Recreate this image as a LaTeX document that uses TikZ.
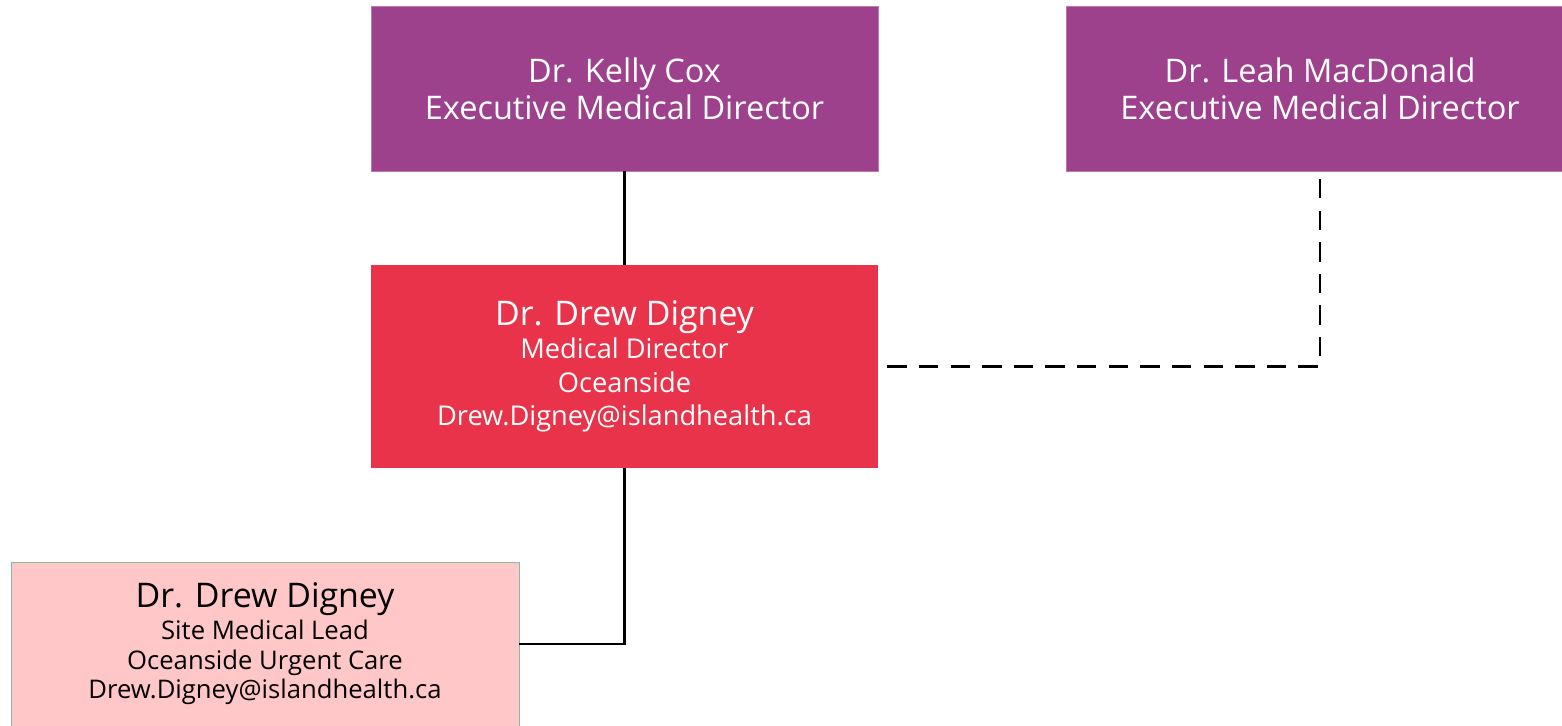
\documentclass[tikz,border=0pt]{standalone}
\usepackage{fontspec}
\setmainfont{Open Sans}
\definecolor{violet}{RGB}{157,65,140}
\definecolor{rouge}{RGB}{232,51,74}
\definecolor{rose}{RGB}{255,199,199}
\definecolor{vertbord}{RGB}{127,191,159}
\begin{document}
\begin{tikzpicture}[x=0.02cm,y=-0.02cm]
		% définition des styles
		\tikzstyle{direction}=[rectangle,draw=violet!70!white,fill=violet,text=white,minimum width=10.14cm,minimum height=3.3cm,align=center,font=\fontsize{18.5}{21}\selectfont]
		\tikzstyle{medical}=[rectangle,fill=rouge,text=white,minimum width=10.14cm,minimum height=4.06cm,align=center,font=\fontsize{15.5}{19}\selectfont]
		\tikzstyle{site}=[rectangle,draw=vertbord,fill=rose,text=black,minimum width=10.16cm,minimum height=3.28cm,align=center,font=\fontsize{14.6}{16.9}\selectfont]
		\tikzstyle{relie}=[line width=1.3pt]
		\tikzstyle{conseille}=[line width=1.6pt,dash pattern=on 11pt off 7pt]
		\useasboundingbox (0,0) rectangle (1562,726);
		\clip (0,0) rectangle (1562,726);
		% les nœuds
		\node[direction] (cox) at (624.5,88.5) {Dr. Kelly Cox\\Executive Medical Director};
		\node[direction] (leah) at (1320,88.5) {Dr. Leah MacDonald\\Executive Medical Director};
		\node[medical] (drew) at (624.5,366.5) {{\fontsize{19.3}{20}\selectfont Dr. Drew Digney}\\Medical Director\\Oceanside\\Drew.Digney@islandhealth.ca};
		\node[site] (lead) at (265,644) {{\fontsize{19.3}{21}\selectfont Dr. Drew Digney}\\[1pt]Site Medical Lead\\Oceanside Urgent Care\\Drew.Digney@islandhealth.ca};
		\coordinate (depart) at ([xshift=0.18cm]drew.east);
		% les liens
		\draw[relie] (cox) -- (drew);
		\draw[relie] (drew.south) |- (lead.east);
		\draw[conseille] (depart) -| (leah.south);
	\end{tikzpicture}
\end{document}
